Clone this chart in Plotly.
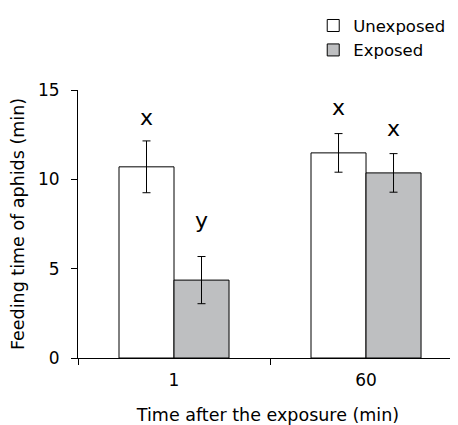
import plotly.graph_objects as go

categories = ["1", "60"]
unexposed_mean = [10.70, 11.48]
unexposed_err = [1.45, 1.08]
exposed_mean = [4.36, 10.36]
exposed_err = [1.32, 1.08]
unexposed_letters = ["x", "x"]
exposed_letters = ["y", "x"]

FONT = "DejaVu Sans, Arial, sans-serif"
GREY = "#bebfc1"
BARGAP = 0.427
half = (1 - BARGAP) / 4  # offset of each bar centre from category centre
unexposed_shift = [23, 26]
exposed_shift = [36, 25]

fig = go.Figure()
fig.add_trace(go.Bar(
    x=categories, y=unexposed_mean, name="Unexposed",
    marker=dict(color="white", line=dict(color="black", width=1)),
    error_y=dict(type="data", array=unexposed_err, color="black", thickness=1, width=4),
))
fig.add_trace(go.Bar(
    x=categories, y=exposed_mean, name="Exposed",
    marker=dict(color=GREY, line=dict(color="black", width=1)),
    error_y=dict(type="data", array=exposed_err, color="black", thickness=1, width=4),
))

for i in range(len(categories)):
    fig.add_annotation(x=i - half, y=unexposed_mean[i] + unexposed_err[i], xref="x", yref="y",
                       text=unexposed_letters[i], showarrow=False, yshift=unexposed_shift[i],
                       font=dict(size=22, color="black", family=FONT))
    fig.add_annotation(x=i + half, y=exposed_mean[i] + exposed_err[i], xref="x", yref="y",
                       text=exposed_letters[i], showarrow=False, yshift=exposed_shift[i],
                       font=dict(size=22, color="black", family=FONT))

fig.update_layout(
    width=450, height=417,
    margin=dict(l=70, r=0, t=79, b=67),
    paper_bgcolor="white", plot_bgcolor="white",
    barmode="group", bargap=BARGAP, bargroupgap=0,
    font=dict(family=FONT, size=17, color="black"),
    legend=dict(x=0.619, y=1.305, xanchor="left", yanchor="top",
                font=dict(size=16.5), itemwidth=30, tracegroupgap=0,
                bgcolor="rgba(0,0,0,0)"),
    xaxis=dict(
        type="category", range=[-0.5, 1.479], automargin=False,
        showline=True, linecolor="black", linewidth=1,
        ticks="outside", tickson="boundaries", ticklen=6, tickcolor="black",
        showgrid=False, zeroline=False,
        tickfont=dict(size=17), ticklabelstandoff=7,
        title=dict(text="Time after the exposure (min)", font=dict(size=17.5), standoff=19),
    ),
    yaxis=dict(
        range=[0, 15], tickvals=[0, 5, 10, 15], automargin=False,
        showline=True, linecolor="black", linewidth=1,
        ticks="outside", ticklen=6, tickcolor="black",
        showgrid=False, zeroline=False,
        tickfont=dict(size=17), ticklabelstandoff=8,
        title=dict(text="Feeding time of aphids (min)", font=dict(size=17.5), standoff=12),
    ),
)

fig.write_html("out.html")
